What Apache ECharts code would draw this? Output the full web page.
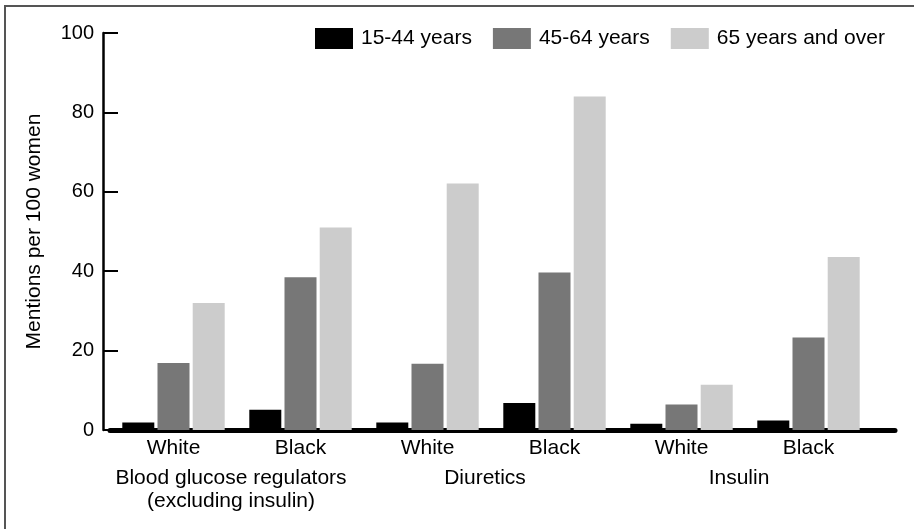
<!DOCTYPE html>
<html>
<head>
<meta charset="utf-8">
<script src="https://cdn.jsdelivr.net/npm/echarts@6/dist/echarts.min.js"></script>
<style>html,body{margin:0;padding:0;background:#fff}#c{width:914px;height:529px}</style>
</head>
<body>
<div id="c"></div>
<script>
var categories = ['White', 'Black', 'White', 'Black', 'White', 'Black'];
var groups = ['Blood glucose regulators\n(excluding insulin)', 'Diuretics', 'Insulin'];
var seriesNames = ['15-44 years', '45-64 years', '65 years and over'];
var age15to44 = [1.9, 5.1, 1.9, 6.8, 1.6, 2.4];
var age45to64 = [16.9, 38.5, 16.7, 39.7, 6.4, 23.3];
var age65plus = [32.0, 51.0, 62.1, 84.0, 11.4, 43.6];
var yTicks = [0, 20, 40, 60, 80, 100];
var colors = ['#000000', '#777777', '#cccccc'];

var font = "'Liberation Sans', Arial, Helvetica, sans-serif";
var chart = echarts.init(document.getElementById('c'), null, {renderer: 'canvas'});
var dataSets = [age15to44, age45to64, age65plus];
var series = dataSets.map(function (d, i) {
  return {
    name: seriesNames[i], type: 'bar', xAxisIndex: 0, yAxisIndex: 0,
    data: d, barWidth: 32, barGap: '10%',
    itemStyle: {color: colors[i]}, emphasis: {disabled: true}
  };
});
chart.setOption({
  animation: false,
  textStyle: {fontFamily: font},
  graphic: [{
    type: 'rect', shape: {x: 5, y: 6, width: 1200, height: 1200},
    style: {fill: 'none', stroke: '#555', lineWidth: 2}, silent: true
  }],
  legend: {
    left: 315, top: 28, padding: 0, itemWidth: 38, itemHeight: 21, itemGap: 21,
    icon: 'rect',
    textStyle: {fontSize: 21, lineHeight: 21, color: '#000', fontFamily: font, padding: [0, 0, 0, 3]},
    data: seriesNames
  },
  grid: [
    {left: 110, right: 42, top: 33, bottom: 99, containLabel: false},
    {left: 110, right: 19, top: 33, bottom: 99, containLabel: false}
  ],
  xAxis: [
    {
      type: 'category', gridIndex: 0, data: categories,
      axisLine: {show: false}, axisTick: {show: false},
      axisLabel: {interval: 0, fontSize: 21, color: '#000', margin: 8, fontFamily: font}
    },
    {
      type: 'category', gridIndex: 0, data: groups, position: 'bottom',
      axisLine: {show: false}, axisTick: {show: false},
      axisLabel: {interval: 0, fontSize: 21, color: '#000', margin: 37, lineHeight: 23,
        padding: [0, 12, 0, 0], fontFamily: font}
    },
    {
      type: 'value', gridIndex: 1, min: 0, max: 1,
      axisLine: {show: true, onZero: true, lineStyle: {color: '#000', width: 5}},
      axisTick: {show: false}, axisLabel: {show: false}, splitLine: {show: false}
    }
  ],
  yAxis: [
    {
      type: 'value', gridIndex: 0, min: yTicks[0], max: yTicks[yTicks.length - 1], interval: 20,
      offset: 7,
      name: 'Mentions per 100 women', nameLocation: 'middle', nameGap: 58, nameRotate: 90,
      nameTextStyle: {fontSize: 21, color: '#000', fontFamily: font},
      axisLine: {show: true, lineStyle: {color: '#000', width: 2.5}},
      axisTick: {show: true, inside: true, length: 15, lineStyle: {color: '#000', width: 2}},
      axisLabel: {fontSize: 20, color: '#000', margin: 9, fontFamily: font},
      splitLine: {show: false}
    },
    {
      type: 'value', gridIndex: 1, min: 0, max: 100, show: false
    }
  ],
  series: series
});
</script>
</body>
</html>
